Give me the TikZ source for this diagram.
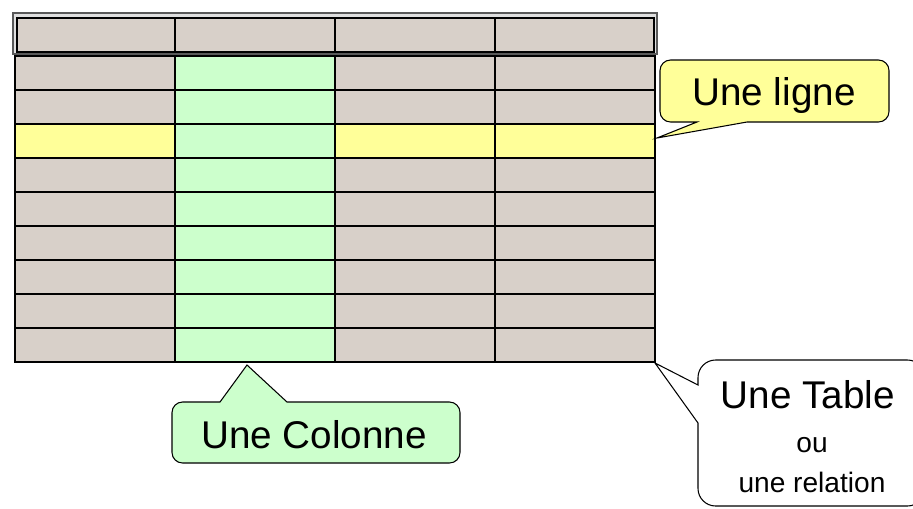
\documentclass[tikz,border=0pt]{standalone}
\usepackage{fontspec}
\setmainfont{Liberation Sans}
\definecolor{cellgray}{RGB}{216,208,201}
\definecolor{colgreen}{RGB}{204,255,204}
\definecolor{rowyellow}{RGB}{255,255,153}

\begin{document}
\begin{tikzpicture}[x=0.02cm,y=-0.02cm,
  cell/.style = {draw=black,line width=0.8pt},
  bubble/.style = {draw=black,line width=0.6pt},
  bigtext/.style = {font=\fontsize{22}{26}\selectfont,anchor=base,inner sep=0pt},
  smalltext/.style = {font=\fontsize{16}{19}\selectfont,anchor=base,inner sep=0pt}]
\useasboundingbox (0,0) rectangle (913,508);
	% header
	\draw[fill=gray!25,draw=gray!70!black,line width=1.2pt] (13,13) rectangle (657,54);
	\draw[cell,fill=cellgray] (17,18) rectangle (654,52);
	\foreach \x in {175,335,495}
		\draw[cell] (\x,18) -- (\x,52);
	% body
	\fill[cellgray] (15,56) rectangle (655,362);
	\fill[rowyellow] (15,124) rectangle (655,158);
	\fill[colgreen] (175,56) rectangle (335,362);
	\foreach \r in {0,...,8}
		\foreach \c in {0,...,3}
			\draw[cell] (15+160*\c,56+34*\r) rectangle +(160,34);
	% callouts
	\draw[bubble,fill=rowyellow] (657,138) -- (747,122) [rounded corners=6pt] -- (889,122) -- (889,60) -- (660,60) -- (660,122) [sharp corners] -- (697,122) -- cycle;
	\draw[bubble,fill=colgreen] (247,365) -- (287,402) [rounded corners=6pt] -- (460,402) -- (460,463) -- (172,463) -- (172,402) [sharp corners] -- (220,402) -- cycle;
	\draw[bubble,fill=white] (655,363) -- (698,423) [rounded corners=10pt] -- (698,506) -- (925,506) -- (925,360) -- (698,360) [sharp corners] -- (698,385) -- cycle;
	% texts
	\node[bigtext] (ligne) at (774,105) {Une ligne};
	\node[bigtext] (colonne) at (314,448) {Une Colonne};
	\node[bigtext] (table) at (808,408) {Une Table};
	\node[smalltext] (ou) at (812,452) {ou};
	\node[smalltext] (relation) at (812,492) {une relation};
\end{tikzpicture}
\end{document}
